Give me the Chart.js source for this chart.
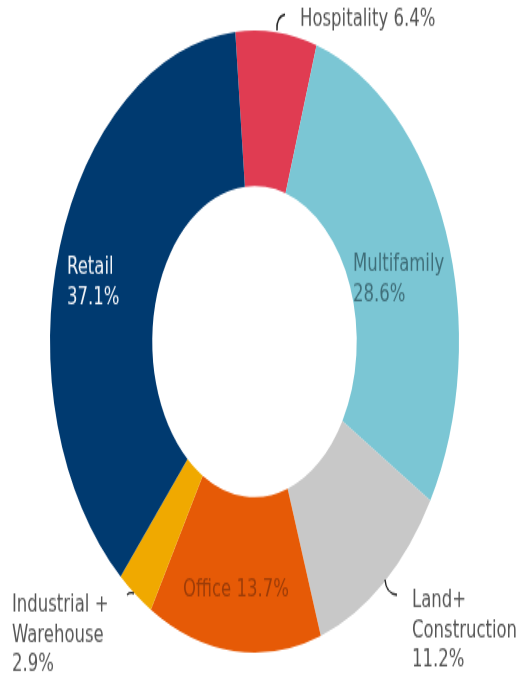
<!DOCTYPE html>
<html>
<head>
<meta charset="utf-8">
<script src="https://cdn.jsdelivr.net/npm/chart.js@4.4.1/dist/chart.umd.min.js"></script>
<style>
    html, body { margin: 0; padding: 0; background: #fff; }
    body { width: 518px; height: 680px; overflow: hidden; }
    #wrap { width: 518px; height: 447px; transform: scaleY(1.5213); transform-origin: 0 0; }
</style>
</head>
<body>
<div id="wrap"><canvas id="mixChart" width="518" height="447"></canvas></div>
<script>
// portfolio mix by property type, clockwise from the top
const categories = ['Hospitality', 'Multifamily', 'Land+ Construction', 'Office', 'Industrial + Warehouse', 'Retail'];
const shares = [6.4, 28.6, 11.2, 13.7, 2.9, 37.1];
const sliceColors = ['#e03c52', '#7bc6d4', '#c8c8c8', '#e65a06', '#f0a900', '#003a70'];

// where each label sits and how its lines break
const labelLayout = [
    { x: 300, y: 13, lines: ['Hospitality 6.4%'], color: '#555555', leader: [[277, 20], [276, 11], [285, 9.5]] },
    { x: 353, y: 174, lines: ['Multifamily', '28.6%'], color: '#3f6e79' },
    { x: 412, y: 395, lines: ['Land+', 'Construction', '11.2%'], color: '#555555', leader: [[385, 381], [386, 390], [397, 391]] },
    { x: 183, y: 388, lines: ['Office 13.7%'], color: '#9c3c08' },
    { x: 12, y: 398, lines: ['Industrial +', 'Warehouse', '2.9%'], color: '#555555', leader: [[127, 391], [130, 389], [134, 390]] },
    { x: 67, y: 176, lines: ['Retail', '37.1%'], color: '#f2f5f9' }
];

const sliceLabels = {
    id: 'sliceLabels',
    afterDatasetsDraw(chart) {
        const ctx = chart.ctx;
        ctx.save();
        ctx.font = '16.5px "DejaVu Sans", Verdana, sans-serif';
        ctx.textBaseline = 'middle';
        ctx.textAlign = 'left';
        labelLayout.forEach(function (lab) {
            ctx.fillStyle = lab.color;
            lab.lines.forEach(function (line, i) {
                ctx.fillText(line, lab.x, lab.y + i * 19.5);
            });
            if (lab.leader) {
                const p = lab.leader;
                ctx.strokeStyle = '#222';
                ctx.lineWidth = 1.4;
                ctx.beginPath();
                ctx.moveTo(p[0][0], p[0][1]);
                ctx.quadraticCurveTo(p[1][0], p[1][1], p[2][0], p[2][1]);
                ctx.stroke();
            }
        });
        ctx.restore();
    }
};

const mixChart = new Chart(document.getElementById('mixChart').getContext('2d'), {
    type: 'doughnut',
    data: {
        labels: categories,
        datasets: [{
            data: shares,
            backgroundColor: sliceColors,
            borderWidth: 0
        }]
    },
    options: {
        responsive: false,
        animation: false,
        rotation: -5.4,
        cutout: '50%',
        layout: { padding: { left: 50, right: 59, top: 20, bottom: 18 } },
        plugins: {
            legend: { display: false },
            tooltip: { enabled: false }
        }
    },
    plugins: [sliceLabels]
});
</script>
</body>
</html>
